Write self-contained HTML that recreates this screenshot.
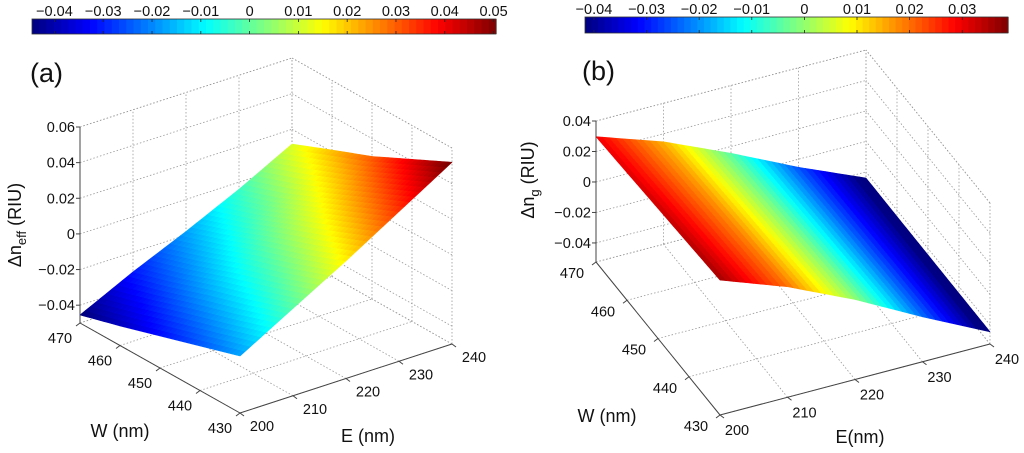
<!DOCTYPE html>
<html><head><meta charset="utf-8">
<style>
html,body{margin:0;padding:0;background:#fff;}
svg{display:block;font-family:"Liberation Sans",sans-serif;}
</style></head>
<body>
<svg id="fig" width="1024" height="453" viewBox="0 0 1024 453" xmlns="http://www.w3.org/2000/svg"></svg>
<script>
// ---- data ----
const eValues = [200, 210, 220, 230, 240];
const wValues = [430, 440, 450, 460, 470];
// panel (a): rows = W (430..470), cols = E (200..240)
const zA_w430 = [-0.018, -0.001, 0.016, 0.034, 0.052];
const zA_w440 = [-0.025, -0.009, 0.007, 0.024, 0.041];
const zA_w450 = [-0.032, -0.016, -0.001, 0.014, 0.030];
const zA_w460 = [-0.039, -0.024, -0.010, 0.004, 0.021];
const zA_w470 = [-0.0455, -0.031, -0.018, -0.004, 0.0117];
// panel (b)
const zB_w430 = [0.036, 0.020, 0.000, -0.023, -0.0445];
const zB_w440 = [0.0344, 0.0187, -0.0012, -0.0235, -0.0444];
const zB_w450 = [0.0328, 0.0174, -0.0023, -0.0241, -0.0443];
const zB_w460 = [0.0312, 0.0160, -0.0034, -0.0247, -0.0442];
const zB_w470 = [0.0297, 0.0147, -0.0045, -0.0253, -0.044];
const zTicksA = [-0.04, -0.02, 0, 0.02, 0.04, 0.06];
const zTickLabelsA = ["\u22120.04", "\u22120.02", "0", "0.02", "0.04", "0.06"];
const zTicksB = [-0.04, -0.02, 0, 0.02, 0.04];
const zTickLabelsB = ["\u22120.04", "\u22120.02", "0", "0.02", "0.04"];
const cbTicksA = [-0.04, -0.03, -0.02, -0.01, 0, 0.01, 0.02, 0.03, 0.04, 0.05];
const cbTickLabelsA = ["\u22120.04","\u22120.03","\u22120.02","\u22120.01","0","0.01","0.02","0.03","0.04","0.05"];
const cbTicksB = [-0.04, -0.03, -0.02, -0.01, 0, 0.01, 0.02, 0.03];
const cbTickLabelsB = ["\u22120.04","\u22120.03","\u22120.02","\u22120.01","0","0.01","0.02","0.03"];

const NS = "http://www.w3.org/2000/svg";
const svg = document.getElementById("fig");
function mk(tag, attrs, parent) {
  const el = document.createElementNS(NS, tag);
  for (const k in attrs) el.setAttribute(k, attrs[k]);
  (parent || svg).appendChild(el);
  return el;
}
function jet(t) {
  t = Math.max(0, Math.min(1, t));
  const c = v => Math.round(255 * Math.max(0, Math.min(1, v)));
  return "rgb(" + c(1.5 - Math.abs(4*t - 3)) + "," + c(1.5 - Math.abs(4*t - 2)) + "," + c(1.5 - Math.abs(4*t - 1)) + ")";
}

function drawPanel(P) {
  const g = mk("g", {});
  
  
  const cmap = v => (v - P.cMin) / (P.cMax - P.cMin);
  const cb = mk("g", {}, g);
  
  
  const n = 64, cbw = (P.cbX1 - P.cbX0) / n;
  for (let i = 0; i < n; i++) {
    mk("rect", {x: P.cbX0 + i*cbw, y: P.cbY, width: cbw + 0.6, height: P.cbH, fill: jet((i + 0.5)/n)}, cb);
  }
  mk("rect", {x: P.cbX0, y: P.cbY, width: P.cbX1 - P.cbX0, height: P.cbH, fill: "none", stroke: "#333", "stroke-width": 0.8}, cb);
  const cbx = v => P.cbX0 + (v - P.cMin) / (P.cMax - P.cMin) * (P.cbX1 - P.cbX0);
  P.cbTicks.forEach((v, i) => {
    const x = cbx(v);
    mk("line", {x1: x, y1: P.cbY, x2: x, y2: P.cbY + 3, stroke: "#222", "stroke-width": 0.8}, cb);
    mk("line", {x1: x, y1: P.cbY + P.cbH - 3, x2: x, y2: P.cbY + P.cbH, stroke: "#222", "stroke-width": 0.8}, cb);
    const t = mk("text", {x: x, y: P.cbY - 3, "text-anchor": "middle", "font-size": 14.5, fill: "#111"}, cb);
    t.textContent = P.cbLabels[i];
    
    
  });
  const proj = (E, W, z) => {
    const fe = (E - 200) / 40, fw = (W - 430) / 40, fz = (z - P.zMin) / (P.zMax - P.zMin);
    return [P.O[0] + fe*P.eV[0] + fw*P.wV[0], P.O[1] + fe*P.eV[1] + fw*P.wV[1] - fz*P.zH];
  };
  const grid = mk("g", {stroke: "#999", "stroke-width": 0.8, "stroke-dasharray": "1.5,2", fill: "none"}, g);
  
  
  const line = (a, b, parent) => mk("line", {x1: a[0], y1: a[1], x2: b[0], y2: b[1]}, parent);
  const zLev = [P.zMin].concat(P.zTicks).concat([P.zMax]);
  eValues.forEach(E => line(proj(E, 430, P.zMin), proj(E, 470, P.zMin), grid));
  wValues.forEach(W => line(proj(200, W, P.zMin), proj(240, W, P.zMin), grid));
  eValues.forEach(E => line(proj(E, 470, P.zMin), proj(E, 470, P.zMax), grid));
  zLev.forEach(z => line(proj(200, 470, z), proj(240, 470, z), grid));
  wValues.forEach(W => line(proj(240, W, P.zMin), proj(240, W, P.zMax), grid));
  zLev.forEach(z => line(proj(240, 430, z), proj(240, 470, z), grid));
  const surf = mk("g", {}, g);
  
  
  const Z = P.Z, sub = 10;
  const zAt = (wi, ei, s, t) => {
    const a = Z[wi][ei], b = Z[wi][ei+1], c = Z[wi+1][ei], d = Z[wi+1][ei+1];
    return a*(1-s)*(1-t) + b*s*(1-t) + c*(1-s)*t + d*s*t;
  };
  for (let wi = wValues.length - 2; wi >= 0; wi--) {
    for (let ei = 0; ei < eValues.length - 1; ei++) {
      for (let tj = sub - 1; tj >= 0; tj--) {
        for (let si = 0; si < sub; si++) {
          const s0 = si/sub, s1 = (si+1)/sub, t0 = tj/sub, t1 = (tj+1)/sub;
          const E0 = eValues[ei] + s0*(eValues[ei+1]-eValues[ei]), E1 = eValues[ei] + s1*(eValues[ei+1]-eValues[ei]);
          const W0 = wValues[wi] + t0*(wValues[wi+1]-wValues[wi]), W1 = wValues[wi] + t1*(wValues[wi+1]-wValues[wi]);
          const p1 = proj(E0, W0, zAt(wi, ei, s0, t0)), p2 = proj(E1, W0, zAt(wi, ei, s1, t0));
          const p3 = proj(E1, W1, zAt(wi, ei, s1, t1)), p4 = proj(E0, W1, zAt(wi, ei, s0, t1));
          const col = jet(cmap(zAt(wi, ei, (s0+s1)/2, (t0+t1)/2)));
          mk("polygon", {points: [p1,p2,p3,p4].map(p => p[0].toFixed(2)+","+p[1].toFixed(2)).join(" "), fill: col, stroke: col, "stroke-width": 0.6, "stroke-linejoin": "round"}, surf);
        }
      }
    }
  }
  const ax = mk("g", {stroke: "#444", "stroke-width": 1, fill: "none"}, g);
  
  
  line(proj(200, 470, P.zMin), proj(200, 470, P.zMax), ax);
  line(proj(200, 470, P.zMin), proj(200, 430, P.zMin), ax);
  line(proj(200, 430, P.zMin), proj(240, 430, P.zMin), ax);
  const tl = (x, y, s, anchor, nm) => {
    const t = mk("text", {x: x, y: y, "text-anchor": anchor, "font-size": 14.5, fill: "#111"}, g);
    t.textContent = s;
    
    
  };
  P.zTicks.forEach((z, i) => {
    const p = proj(200, 470, z);
    line(p, [p[0] - 4, p[1]], ax);
    tl(p[0] - 5, p[1] + 5, P.zLabels[i], "end", "z-tick-label");
  });
  wValues.forEach(W => {
    const p = proj(200, W, P.zMin);
    line(p, [p[0] - 4, p[1] + 3], ax);
    tl(p[0] + P.wLab[0], p[1] + P.wLab[1] + 5, String(W), "middle", "w-tick-label");
  });
  eValues.forEach(E => {
    const p = proj(E, 430, P.zMin);
    line(p, [p[0] + 4, p[1] + 3], ax);
    tl(p[0] + P.eLab[0], p[1] + P.eLab[1] + 5, String(E), "middle", "e-tick-label");
  });
  let t = mk("text", {x: P.wTitle[0], y: P.wTitle[1], "text-anchor": "middle", "font-size": 18, fill: "#111"}, g);
  t.textContent = "W (nm)";
  
  
  t = mk("text", {x: P.eTitle[0], y: P.eTitle[1], "text-anchor": "middle", "font-size": 18, fill: "#111"}, g);
  t.textContent = P.eTitleText;
  
  
  t = mk("text", {x: 0, y: 0, "text-anchor": "middle", "font-size": 18, fill: "#111", transform: "translate(" + P.zTitle[0] + "," + P.zTitle[1] + ") rotate(-90)"}, g);
  t.innerHTML = '\u0394n<tspan font-size="13" dy="5">' + P.sub + '</tspan><tspan dy="-5"> (RIU)</tspan>';
  
  
  t = mk("text", {x: P.tag[0], y: P.tag[1], "font-size": 27, fill: "#111"}, g);
  t.textContent = P.tagText;
  
  
}

drawPanel({
  name: "panel-a", Z: [zA_w430, zA_w440, zA_w450, zA_w460, zA_w470],
  cMin: -0.0446, cMax: 0.0505, cbX0: 32, cbX1: 496, cbY: 19, cbH: 15,
  cbTicks: cbTicksA, cbLabels: cbTickLabelsA,
  O: [240, 413], eV: [212, -69], wV: [-160, -90], zMin: -0.05, zMax: 0.06, zH: 196,
  zTicks: zTicksA, zLabels: zTickLabelsA, wLab: [-20, 15], eLab: [22, 13],
  wTitle: [120, 437], eTitle: [368, 442], eTitleText: "E (nm)", zTitle: [21, 225], sub: "eff",
  tag: [30, 82], tagText: "(a)"
});
drawPanel({
  name: "panel-b", Z: [zB_w430, zB_w440, zB_w450, zB_w460, zB_w470],
  cMin: -0.0417, cMax: 0.0387, cbX0: 585, cbX1: 1008, cbY: 17, cbH: 16,
  cbTicks: cbTicksB, cbLabels: cbTickLabelsB,
  O: [720, 415], eV: [270, -71], wV: [-124, -153], zMin: -0.0525, zMax: 0.04, zH: 141,
  zTicks: zTicksB, zLabels: zTickLabelsB, wLab: [-24, 11], eLab: [17, 15],
  wTitle: [607, 422], eTitle: [860, 443], eTitleText: "E(nm)", zTitle: [534, 180], sub: "g",
  tag: [582, 80], tagText: "(b)"
});
</script>
</body></html>
